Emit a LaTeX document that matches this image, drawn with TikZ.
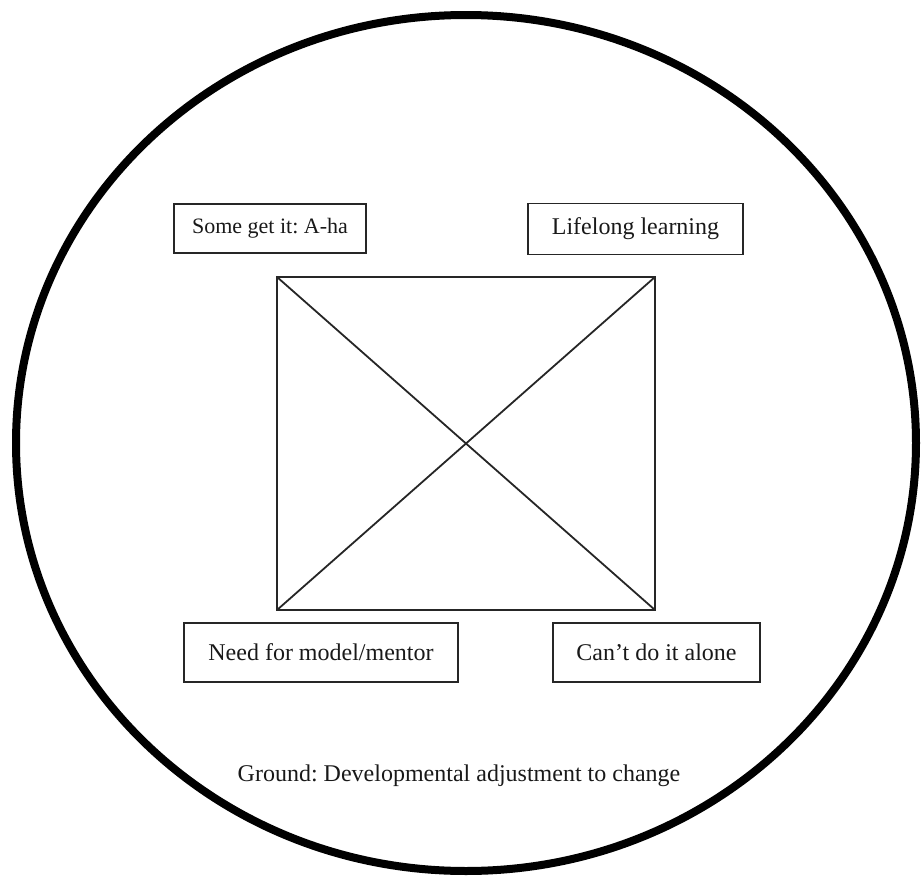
\documentclass[tikz,border=0pt]{standalone}
\usepackage{fontspec}
\setmainfont{Liberation Serif}
\frenchspacing
\begin{document}
\begin{tikzpicture}[x=1pt,y=-1pt,
  lbl/.style={draw=black!85, line width=1.5pt, inner sep=0pt, font=\fontsize{24}{28}\selectfont, text=black!90},
  sq/.style={draw=black!85, line width=1.8pt}]
\useasboundingbox (0,0) rectangle (922,881);
\draw[line width=8pt] (466,443) ellipse [x radius=450, y radius=428];
\node[lbl, minimum width=192pt, minimum height=49pt, font=\fontsize{22}{26}\selectfont] (aha) at (270,228.5) {Some get it: A-ha};
\node[lbl, minimum width=215pt, minimum height=51pt] (life) at (635.5,229) {Lifelong learning};
\node[lbl, minimum width=274pt, minimum height=59pt] (need) at (321,652.5) {Need for model/mentor};
\node[lbl, minimum width=207pt, minimum height=59pt] (cant) at (656.5,652.5) {Can’t do it alone};
\coordinate (tl) at (277,277);
\coordinate (tr) at (655,277);
\coordinate (br) at (655,610);
\coordinate (bl) at (277,610);
\draw[sq] (tl) -- (tr) -- (br) -- (bl) -- cycle;
\draw[sq] (tl) -- (br);
\draw[sq] (tr) -- (bl);
\node[font=\fontsize{24}{28}\selectfont, text=black!90] (ground) at (459,776) {Ground: Developmental adjustment to change};
\end{tikzpicture}
\end{document}
